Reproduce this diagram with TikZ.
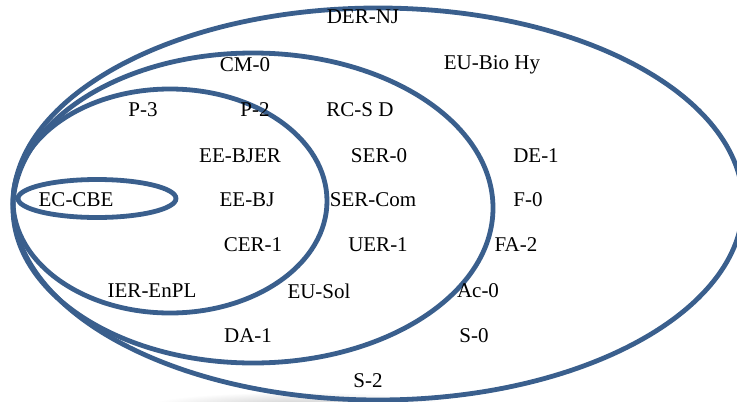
\documentclass[tikz,border=0pt]{standalone}
\usepackage{fontspec}
\setmainfont{Liberation Serif}
\definecolor{setblue}{RGB}{58,95,141}
\tikzset{
  setline/.style={draw=setblue, line width=4.8pt},
  lbl/.style={font=\fontsize{21}{25}\selectfont, inner sep=0pt, text=black}
}
\begin{document}
\begin{tikzpicture}[x=1pt,y=-1pt]
  \useasboundingbox (0,0) rectangle (737,402);
  \clip (0,0) rectangle (737,402);
  % soft grey shadow under the largest set
  \shade[inner color=gray!40, outer color=white] (300,405) ellipse [x radius=150, y radius=13];
  % nested sets
  \draw[setline] (378,204) ellipse [x radius=365, y radius=196];
  \draw[setline] (253,208) ellipse [x radius=240, y radius=155];
  \draw[setline] (170,201) ellipse [x radius=157, y radius=112];
  \draw[setline] (97,198.5) ellipse [x radius=79, y radius=19];
  % labels
  \node[lbl] (dernj) at (363,17) {DER-NJ};
  \node[lbl] (cm0) at (245,65) {CM-0};
  \node[lbl] (eubio) at (492,65) {EU-Bio Hy};
  \node[lbl] (p3) at (143,110) {P-3};
  \node[lbl] (p2) at (255,110) {P-2};
  \node[lbl] (rcsd) at (360,110) {RC-S D};
  \node[lbl] (eebjer) at (240,156) {EE-BJER};
  \node[lbl] (ser0) at (379,156) {SER-0};
  \node[lbl] (de1) at (536,156) {DE-1};
  \node[lbl] (eccbe) at (76,200) {EC-CBE};
  \node[lbl] (eebj) at (247,200) {EE-BJ};
  \node[lbl] (sercom) at (373,200) {SER-Com};
  \node[lbl] (f0) at (528,200) {F-0};
  \node[lbl] (cer1) at (253,245) {CER-1};
  \node[lbl] (uer1) at (378,245) {UER-1};
  \node[lbl] (fa2) at (516,245) {FA-2};
  \node[lbl] (ierenpl) at (152,291) {IER-EnPL};
  \node[lbl] (eusol) at (319,291) {EU-Sol};
  \node[lbl] (ac0) at (478,291) {Ac-0};
  \node[lbl] (da1) at (248,336) {DA-1};
  \node[lbl] (s0) at (474,336) {S-0};
  \node[lbl] (s2) at (368,381) {S-2};
\end{tikzpicture}
\end{document}
